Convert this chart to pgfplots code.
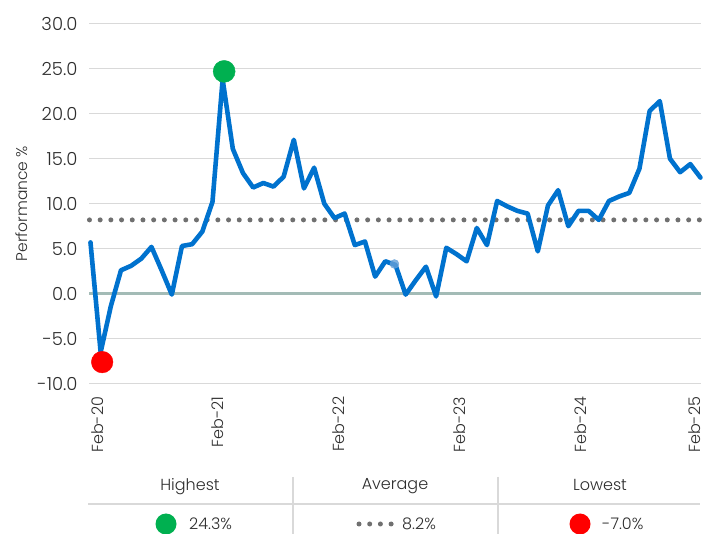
\documentclass[border=0pt]{standalone}
\usepackage{pgfplots}
\pgfplotsset{compat=1.18}
\usepackage{pgfplotstable}
\usepackage{fontspec}
\setmainfont{Poppins}[UprightFont=* Light]
\definecolor{lineblue}{RGB}{0,114,206}
\definecolor{gridgray}{RGB}{217,217,217}
\definecolor{zeroc}{RGB}{163,187,182}
\definecolor{avgc}{RGB}{112,112,112}
\definecolor{hgreen}{RGB}{0,176,80}
\definecolor{lred}{RGB}{255,0,0}
\definecolor{txt}{RGB}{45,45,45}
\definecolor{lightdot}{RGB}{100,160,215}

\pgfplotstableread{
i v
0 5.7
1 -6.5
2 -1.4
3 2.6
4 3.1
5 3.9
6 5.2
7 2.6
8 -0.1
9 5.3
10 5.5
11 6.9
12 10.2
13 23.8
14 16.1
15 13.4
16 11.8
17 12.3
18 11.9
19 13.0
20 17.1
21 11.7
22 14.0
23 10.0
24 8.4
25 8.9
26 5.4
27 5.8
28 1.9
29 3.6
30 3.2
31 -0.1
32 1.5
33 3.0
34 -0.3
35 5.1
36 4.4
37 3.6
38 7.3
39 5.4
40 10.3
41 9.7
42 9.2
43 8.9
44 4.7
45 9.8
46 11.5
47 7.5
48 9.2
49 9.2
50 8.2
51 10.3
52 10.8
53 11.2
54 13.9
55 20.3
56 21.4
57 15.0
58 13.5
59 14.4
60 12.9
}\perf

\begin{document}
\begin{tikzpicture}[x=1pt,y=1pt]
\begin{axis}[
  at={(88,167)}, anchor=south west,
  scale only axis, width=612pt, height=360pt,
  xmin=-0.1, xmax=60.1, ymin=-10, ymax=30,
  axis line style={draw=none},
  ytick={-10,-5,...,30},
  ymajorgrids, grid style={gridgray, line width=1.1pt},
  major tick length=0pt,
  yticklabel style={font=\fontsize{18}{21}\selectfont, text=txt, inner sep=0pt, outer sep=0pt, xshift=-12pt,
    /pgf/number format/.cd, fixed, fixed zerofill, precision=1, assume math mode=true},
  xtick={0.7,12.49,24.37,36.32,48.18,59.4},
  xticklabels={Feb-20,Feb-21,Feb-22,Feb-23,Feb-24,Feb-25},
  xticklabel style={yshift=-13pt, rotate=90, anchor=east, inner sep=0pt, outer sep=0pt, font=\fontsize{16}{19}\selectfont, text=txt},
  ylabel={Performance \%},
  ylabel style={at={(axis description cs:-0.1103,0.5)}, anchor=center, font=\fontsize{15.5}{18}\selectfont, text=txt},
  clip=false,
]
\addplot[draw=zeroc, line width=2.5pt, forget plot] coordinates {(-0.1,0) (60.1,0)};
\addplot[avgc, line width=5pt, line cap=round, dash pattern=on 0pt off 10.7pt] coordinates {(-0.1,8.2) (60.1,8.2)};
\addplot[lineblue, line width=4.6pt, line join=round, line cap=round] table[x=i,y=v]{\perf};
\addplot[only marks, mark=*, color=lightdot, mark size=4.5pt, opacity=0.8] coordinates {(29.9,3.3)};
\addplot[only marks, mark=*, color=hgreen, mark size=11pt] coordinates {(13.15,24.7)};
\addplot[only marks, mark=*, color=lred, mark size=10.8pt] coordinates {(1.15,-7.6)};
\end{axis}
% summary table
\draw[gridgray, line width=1.2pt] (88,30) -- (700,30);
\draw[gridgray, line width=1.2pt] (293,57) -- (293,0);
\draw[gridgray, line width=1.2pt] (498,57) -- (498,0);
\begin{scope}[every node/.style={font=\fontsize{16}{19}\selectfont, text=txt, inner sep=0pt}]
\node at (190,47) {Highest};
\node at (395,48) {Average};
\node at (600,49) {Lowest};
\node[circle, fill=hgreen, minimum size=21pt] at (166,10) {};
\node[anchor=west] at (189,10) {24.3\%};
\draw[avgc, line width=5pt, line cap=round, dash pattern=on 0pt off 10.7pt] (359,10) -- (392,10);
\node[anchor=west] at (402,10) {8.2\%};
\node[circle, fill=lred, minimum size=21pt] at (580,10) {};
\node[anchor=west] at (602,10) {-7.0\%};
\end{scope}
\pgfresetboundingbox
\path[use as bounding box] (0,0) rectangle (708,534);
\end{tikzpicture}
\end{document}
